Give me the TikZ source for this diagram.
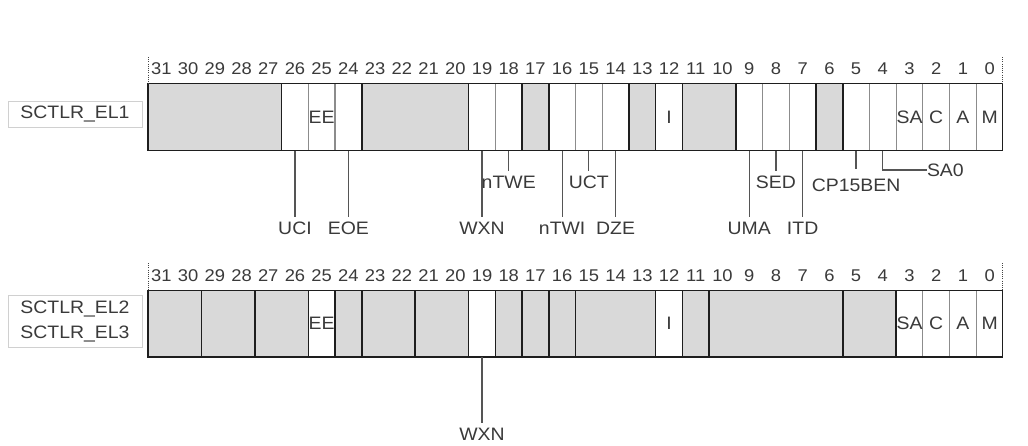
\documentclass[tikz,border=0pt]{standalone}
\usepackage{fontspec}
\setmainfont{Liberation Sans}[FakeStretch=1.08]
\definecolor{txt}{HTML}{3A3A3A}
\definecolor{fillg}{HTML}{D9D9D9}
\definecolor{lineb}{HTML}{1E1E1E}
\definecolor{sepg}{HTML}{8C8C8C}
\definecolor{leadg}{HTML}{555555}
\definecolor{boxg}{HTML}{D0D0D0}
\definecolor{dotg}{HTML}{444444}
\newcommand\bxl[1]{976.32-26.72*#1}
\newcommand\bxr[1]{1003.04-26.72*#1}
\newcommand\bxc[1]{989.68-26.72*#1}
\begin{document}
\begin{tikzpicture}[x=1pt,y=-1pt,
  gfld/.style={fill=fillg, draw=lineb, line width=1.6pt},
  sepline/.style={draw=sepg, line width=1.2pt},
  outer/.style={draw=lineb, line width=1.4pt},
  bitnum/.style={font=\fontsize{17}{19}\selectfont, text=txt, inner sep=0pt},
  fldtxt/.style={font=\fontsize{18}{21}\selectfont, text=txt, inner sep=0pt},
  lbl/.style={font=\fontsize{18}{21}\selectfont, text=txt, inner sep=0pt, text height=12.9pt, text depth=0pt, outer sep=5pt},
  lead/.style={draw=leadg, line width=1.2pt},
  regbox/.style={draw=boxg, line width=0.8pt, minimum width=134pt, font=\fontsize{18}{25}\selectfont, text=txt, align=center},
  dots/.style={draw=dotg, line width=0.9pt, dash pattern=on 0.9pt off 1.3pt}]
\newcommand\leader[5]{%
  \coordinate (#1b) at (\bxc{#2},#3);
  \node[lbl] (#1) at (\bxc{#2},#4) {#5};
  \draw[lead] (#1b) -- (#1.north);}
\useasboundingbox (0,0) rectangle (1028,445);
\fill[white] (0,0) rectangle (1028,445);

% ---------- register labels
\node[regbox, minimum height=26pt] (el1) at (75,114) {SCTLR\_EL1};
\node[regbox, minimum height=52pt] (el23) at (75,321) {SCTLR\_EL2\\SCTLR\_EL3};

% ---------- row 1
\def\ta{83.5}\def\tb{150.5}
\fill[white] (148,\ta) rectangle (1002.7,\tb);
\foreach \b in {25,24,18,15,14,8,7,4,3,2,1,0}
  \draw[sepline] (\bxl{\b},\ta) -- (\bxl{\b},\tb);
\foreach \h/\l in {31/27,23/20,17/17,13/13,11/10,6/6}
  \draw[gfld] (\bxl{\h},\ta) rectangle (\bxr{\l},\tb);
\draw[outer] (148,\ta) rectangle (1002.7,\tb);
\foreach \b in {0,...,31}
  \node[bitnum] (na\b) at (\bxc{\b},69) {\b};
\foreach \b/\t in {25/EE,12/I,3/SA,2/C,1/A,0/M}
  \node[fldtxt] (fa\b) at (\bxc{\b},117) {\t};
\draw[dots] (148,57) -- (148,\ta);
\draw[dots] (1002.7,57) -- (1002.7,\ta);

\leader{uci}{26}{\tb}{228.5}{UCI}
\leader{eoe}{24}{\tb}{228.5}{EOE}
\leader{wxna}{19}{\tb}{228.5}{WXN}
\leader{ntwi}{16}{\tb}{228.5}{nTWI}
\leader{dze}{14}{\tb}{228.5}{DZE}
\leader{uma}{9}{\tb}{228.5}{UMA}
\leader{itd}{7}{\tb}{228.5}{ITD}
\leader{ntwe}{18}{\tb}{182}{nTWE}
\leader{uct}{15}{\tb}{182}{UCT}
\leader{sed}{8}{\tb}{182}{SED}
\coordinate (cpb) at (\bxc{5},\tb);
\node[lbl, outer sep=10pt] (cp) at (\bxc{5},185) {CP15BEN};
\draw[lead] (cpb) -- (cp.north);
\coordinate (sa0b) at (\bxc{4},\tb);
\node[lbl, anchor=west, outer sep=0pt] (sa0) at (927,170) {SA0};
\draw[lead] (sa0b) |- (sa0.west);

% ---------- row 2
\def\tc{290.3}\def\td{357}
\fill[white] (148,\tc) rectangle (1002.7,\td);
\foreach \b in {2,1,0}
  \draw[sepline] (\bxl{\b},\tc) -- (\bxl{\b},\td);
\foreach \h/\l in {31/30,29/28,27/26,24/24,23/22,21/20,18/18,17/17,16/16,15/13,11/11,10/6,5/4}
  \draw[gfld] (\bxl{\h},\tc) rectangle (\bxr{\l},\td);
\draw[outer] (148,\tc) rectangle (1002.7,\td);
\foreach \b in {0,...,31}
  \node[bitnum] (nb\b) at (\bxc{\b},276) {\b};
\foreach \b/\t in {25/EE,12/I,3/SA,2/C,1/A,0/M}
  \node[fldtxt] (fb\b) at (\bxc{\b},323.5) {\t};
\draw[dots] (148,263) -- (148,\tc);
\draw[dots] (1002.7,263) -- (1002.7,\tc);

\leader{wxnb}{19}{\td}{434}{WXN}
\end{tikzpicture}
\end{document}
